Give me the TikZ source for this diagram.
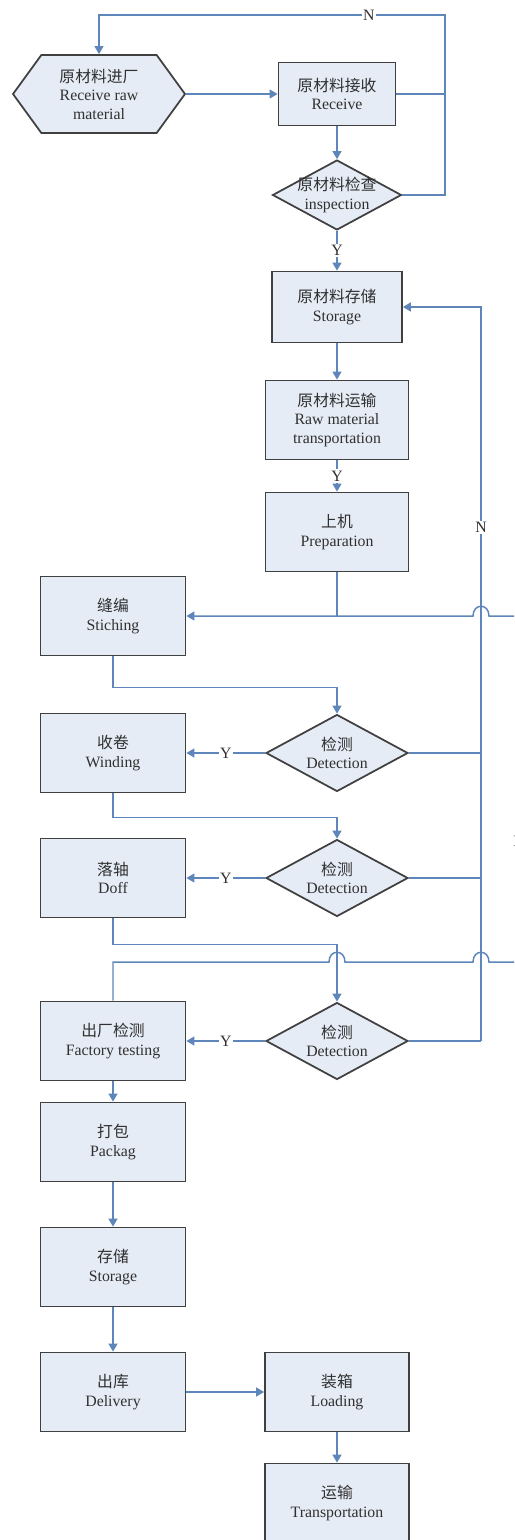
\documentclass[tikz,border=0pt]{standalone}
\usepackage{fontspec}
\setmainfont{Liberation Serif}
\newfontfamily\cjk{Noto Sans CJK SC}
\usepackage{tikz}
\usetikzlibrary{arrows.meta,shapes.geometric,shapes.symbols}

\definecolor{boxfill}{HTML}{E6ECF6}
\definecolor{boxline}{HTML}{404040}
\definecolor{flowline}{HTML}{5F86BA}
\definecolor{txtgray}{HTML}{303030}

\tikzset{
  proc/.style={draw=boxline, fill=boxfill, line width=1pt, align=center,
    minimum width=2.9cm, minimum height=1.58cm, inner sep=1pt,
    text=txtgray, font=\fontsize{9}{10.5}\selectfont},
  decide/.style={proc, diamond, aspect=1.84, inner sep=0pt,
    minimum width=2.84cm, minimum height=1.54cm},
  flow/.style={draw=flowline, line width=0.85pt},
  loopline/.style={draw=flowline, line width=1.3pt},
  yn/.style={fill=white, inner sep=0.8pt, text=txtgray,
    font=\fontsize{9}{10}\selectfont},
}

\begin{document}
\begin{tikzpicture}[x=0.02cm, y=-0.02cm,
    >={Triangle[length=4.5pt,width=5pt]}]
    \useasboundingbox (0,0) rectangle (514,1540);
    \clip (0,0) rectangle (514,1540);

    % Raw material receiving
    \node[proc, signal, signal to=west and east, signal pointer angle=108,
        minimum width=3.44cm, minimum height=1.56cm] (rawin) at (99,94)
        {{\cjk 原材料进厂}\\Receive raw\\material};
    \node[proc, minimum width=2.34cm, minimum height=1.26cm] (recv) at (337,94)
        {{\cjk 原材料接收}\\Receive};
    \node[decide, inner sep=-5pt, minimum width=2.58cm, minimum height=1.4cm] (insp) at (337,195)
        {{\cjk 原材料检查}\\inspection};
    \node[proc, minimum width=2.6cm, minimum height=1.42cm] (rawst) at (337,307)
        {{\cjk 原材料存储}\\Storage};
    \node[proc, minimum width=2.86cm] (rawtr) at (337,420)
        {{\cjk 原材料运输}\\Raw material\\transportation};
    \node[proc, minimum width=2.86cm] (prep) at (337,532)
        {{\cjk 上机}\\Preparation};

    % Production line
    \node[proc] (stitch) at (113,616) {{\cjk 缝编}\\Stiching};
    \node[decide] (det1) at (337,753) {{\cjk 检测}\\Detection};
    \node[proc] (wind) at (113,753) {{\cjk 收卷}\\Winding};
    \node[decide] (det2) at (337,878) {{\cjk 检测}\\Detection};
    \node[proc] (doff) at (113,878) {{\cjk 落轴}\\Doff};
    \node[decide] (det3) at (337,1041) {{\cjk 检测}\\Detection};
    \node[proc] (ftest) at (113,1041) {{\cjk 出厂检测}\\Factory testing};

    % Shipping
    \node[proc] (pack) at (113,1142) {{\cjk 打包}\\Packag};
    \node[proc] (store) at (113,1267) {{\cjk 存储}\\Storage};
    \node[proc] (deliv) at (113,1392) {{\cjk 出库}\\Delivery};
    \node[proc, minimum width=2.88cm] (load) at (337,1392) {{\cjk 装箱}\\Loading};
    \node[proc, minimum width=2.88cm] (trans) at (337,1503) {{\cjk 运输}\\Transportation};

    % Turning points
    \coordinate (nloop) at (445,15);
    \coordinate (back) at (481,307);
    \coordinate (redge1) at (519,616);
    \coordinate (redge2) at (519,962);

    % Receiving links
    \draw[flow,->] (rawin.east) -- (recv.west);
    \draw[flow,->] (recv.south) -- (insp.north);
    \draw[flow] (recv.east) -- (recv.east -| nloop);
    \draw[flow,->] (insp.east) -| (nloop) -- node[yn, pos=0.22] {N} (nloop -| rawin.north) -- (rawin.north);
    \draw[flow,->] (insp.south) -- node[yn] {Y} (rawst.north);
    \draw[flow,->] (rawst.south) -- (rawtr.north);
    \draw[flow,->] (rawtr.south) -- node[yn] {Y} (prep.north);

    % Into stitching
    \draw[flow] (prep.south) -- (prep.south |- stitch.east);
    \draw[flow,->] (redge1) -- (489,616) .. controls (489,603) and (473,603) .. (473,616) -- (stitch.east);

    % Detection loops
    \draw[flow,->] (stitch.south) -- ++(0,31) -| (det1.north);
    \draw[flow,->] (det1.west) -- node[yn] {Y} (wind.east);
    \draw[flow] (det1.east) -- (det1.east -| back);
    \draw[flow,->] (wind.south) -- ++(0,24) -| (det2.north);
    \draw[flow,->] (det2.west) -- node[yn] {Y} (doff.east);
    \draw[flow] (det2.east) -- (det2.east -| back);
    \draw[flow,->] (doff.south) -- ++(0,26) -| (det3.north);
    \draw[flow,->] (det3.west) -- node[yn] {Y} (ftest.east);
    \draw[flow] (det3.east) -- (det3.east -| back);
    \draw[loopline,->] (det3.east -| back) -- node[yn, pos=0.7] {N} (back) -- (rawst.east);

    % Return from factory testing
    \draw[flow] (ftest.north) |- (329,962) .. controls (329,949) and (345,949) .. (345,962)
        -- (473,962) .. controls (473,949) and (489,949) .. (489,962) -- (redge2);
    \draw[flow] (redge2) -- node[yn, pos=0.35] {N} (redge1);

    % Shipping links
    \draw[flow,->] (ftest.south) -- (pack.north);
    \draw[flow,->] (pack.south) -- (store.north);
    \draw[flow,->] (store.south) -- (deliv.north);
    \draw[flow,->] (deliv.east) -- (load.west);
    \draw[flow,->] (load.south) -- (trans.north);

\end{tikzpicture}
\end{document}
